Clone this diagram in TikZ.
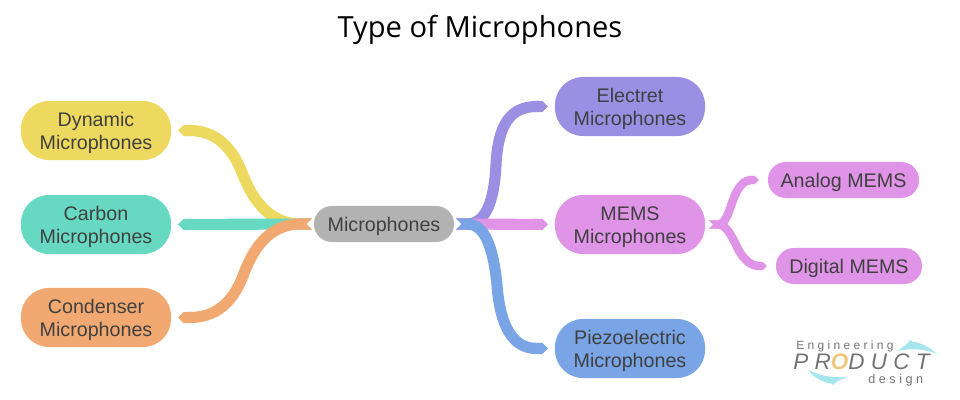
\documentclass[tikz,border=0pt]{standalone}
\usepackage{fontspec}
\setmainfont{Liberation Sans}
\newfontfamily\titlefont{Open Sans}
\newfontfamily\logofont[LetterSpace=28]{Liberation Sans}
\usetikzlibrary{arrows.meta}

\definecolor{dynamicyellow}{HTML}{EDD95F}
\definecolor{carbonteal}{HTML}{67D9C2}
\definecolor{condenserorange}{HTML}{F2A971}
\definecolor{hubgray}{HTML}{B2B2B2}
\definecolor{electretpurple}{HTML}{9B8FE4}
\definecolor{memspink}{HTML}{DF94E8}
\definecolor{piezoblue}{HTML}{79A5E6}
\definecolor{logocyan}{HTML}{A5E6EE}
\definecolor{logoring}{HTML}{F0C67E}

\begin{document}
\begin{tikzpicture}[x=0.025cm, y=-0.025cm]

\tikzset{pill/.style={shape=rectangle, align=center, inner sep=0, outer sep=0, text=black!75, font=\fontsize{14}{16.7}\selectfont}}
\tikzset{mic/.style={pill, rounded corners=0.7cm, minimum width=3.75cm, minimum height=1.475cm, execute at begin node=\rule{0pt}{30.6pt}}}
\tikzset{small/.style={pill, rounded corners=0.445cm, minimum height=0.9cm, execute at begin node=\rule{0pt}{13.2pt}}}
\tikzset{branch/.style={line width=7.9pt, {Triangle Cap[reversed]}-{Triangle Cap}, shorten <=2*0.025cm, shorten >=7*0.025cm}}
\tikzset{twig/.style={branch, line width=6pt, color=memspink, shorten <=4*0.025cm, shorten >=9*0.025cm}}
\tikzset{logotext/.style={inner sep=0, text=black!55}}
\useasboundingbox (0,0) rectangle (960,400);

\node[font=\titlefont\fontsize{20.7}{24}\selectfont] (title) at (480,29.5) {Type of Microphones};

\node[small, fill=hubgray, minimum width=3.5cm] (hub) at (384,224) {Microphones};
\node[mic, fill=dynamicyellow] (dynamic) at (96,130.5) {Dynamic\\Microphones};
\node[mic, fill=carbonteal] (carbon) at (96,224.5) {Carbon\\Microphones};
\node[mic, fill=condenserorange] (condenser) at (96,317.5) {Condenser\\Microphones};
\node[mic, fill=electretpurple] (electret) at (630,106.5) {Electret\\Microphones};
\node[mic, fill=memspink] (mems) at (630,224.5) {MEMS\\Microphones};
\node[mic, fill=piezoblue] (piezo) at (630,348.5) {Piezoelectric\\Microphones};
\node[small, fill=memspink, minimum width=3.775cm] (analog) at (843.5,180) {Analog MEMS};
\node[small, fill=memspink, minimum width=3.65cm] (digital) at (849,266) {Digital MEMS};

\draw[branch, color=dynamicyellow] (hub.west) .. controls (275,224) and (256,208) .. (243,175) .. controls (232,146) and (215,130.5) .. (dynamic.east);
\draw[branch, color=carbonteal] (hub.west) -- (carbon.east);
\draw[branch, color=condenserorange] (hub.west) .. controls (275,224) and (256,240) .. (243,276) .. controls (232,304) and (215,317.5) .. (condenser.east);
\draw[branch, color=electretpurple] (hub.east) .. controls (484,224) and (494,205) .. (496,165) .. controls (498,125) and (510,106.5) .. (electret.west);
\draw[branch, color=memspink] (hub.east) -- (mems.west);
\draw[branch, color=piezoblue] (hub.east) .. controls (484,224) and (493,245) .. (497,285) .. controls (500,325) and (512,348.5) .. (piezo.west);
\draw[twig] (mems.east) .. controls (725,224.5) and (728,215) .. (733,200) .. controls (738,186) and (745,180) .. (analog.west);
\draw[twig] (mems.east) .. controls (725,224.5) and (730,232) .. (737,247) .. controls (743,260) and (752,266) .. (digital.west);

% logo
\fill[logocyan] (897,351) .. controls (903,347) and (908,344) .. (910,340) .. controls (912,342) and (914,343) .. (916,342) .. controls (925,345) and (932,349) .. (937,354) .. controls (925,349) and (912,348) .. (897,351) -- cycle;
\fill[logocyan] (808,370) .. controls (820,376) and (833,378) .. (847,377) .. controls (842,379) and (836,381) .. (833,385) .. controls (831,383) and (829,382) .. (827,383) .. controls (819,380) and (812,376) .. (808,370) -- cycle;
\node[logotext, font=\logofont\fontsize{8.5}{10}\selectfont, anchor=west] (engineering) at (796,346.5) {Engineering};
\node[logotext, font=\logofont\itshape\fontsize{16}{18}\selectfont, anchor=west] (product) at (793,362) {PR\textcolor{logoring}{\bfseries O}DUCT};
\node[logotext, font=\logofont\fontsize{9}{10}\selectfont, anchor=west] (design) at (868,380) {design};

\end{tikzpicture}
\end{document}
